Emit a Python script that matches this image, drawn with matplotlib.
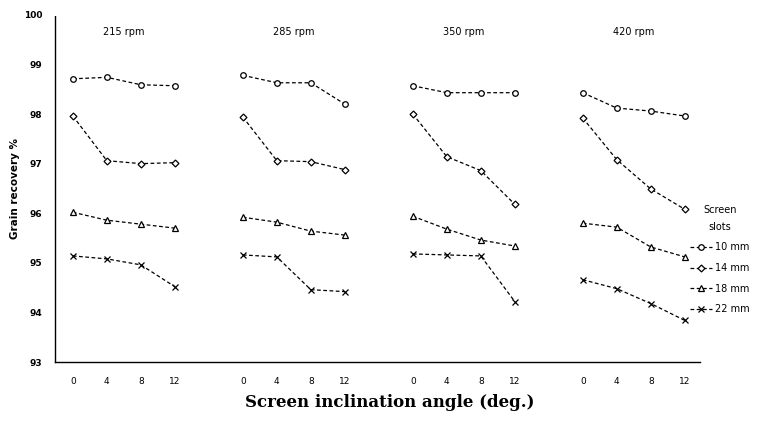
import numpy as np
from matplotlib import pyplot as plt

# data
angles = [0, 4, 8, 12]
speeds = ['215 rpm', '285 rpm', '350 rpm', '420 rpm']
slots = ['10 mm', '14 mm', '18 mm', '22 mm']

rec_10mm = [[98.71, 98.74, 98.59, 98.57],
            [98.78, 98.63, 98.63, 98.20],
            [98.57, 98.43, 98.43, 98.43],
            [98.43, 98.12, 98.06, 97.96]]
rec_14mm = [[97.96, 97.06, 97.00, 97.02],
            [97.94, 97.06, 97.04, 96.88],
            [98.00, 97.14, 96.86, 96.18],
            [97.92, 97.08, 96.49, 96.08]]
rec_18mm = [[96.02, 95.86, 95.78, 95.70],
            [95.92, 95.82, 95.64, 95.56],
            [95.94, 95.68, 95.46, 95.34],
            [95.80, 95.72, 95.32, 95.12]]
rec_22mm = [[95.14, 95.08, 94.96, 94.52],
            [95.16, 95.12, 94.46, 94.42],
            [95.18, 95.16, 95.14, 94.22],
            [94.66, 94.48, 94.18, 93.84]]

series = [rec_10mm, rec_14mm, rec_18mm, rec_22mm]
markers = ['o', 'D', '^', 'x']
msizes = [4, 3.5, 4, 5]
gap = 20  # spacing between speed groups on the x axis

fig = plt.figure(figsize=(7.8, 4.23), dpi=100)
ax = fig.add_axes([0.0705, 0.144, 0.827, 0.821])

for s, (data, mk, ms) in enumerate(zip(series, markers, msizes)):
    for i in range(len(speeds)):
        x = np.array(angles) + i * gap
        ax.plot(x, data[i], color='black', linestyle=(0, (3, 2)), linewidth=0.9,
                marker=mk, markersize=ms, markerfacecolor='white',
                markeredgecolor='black', markeredgewidth=0.9,
                label=slots[s] if i == 0 else None)

for i, sp in enumerate(speeds):
    ax.text(6 + i * gap, 99.66, sp, ha='center', va='center', fontsize=7)

ticks = [a + i * gap for i in range(len(speeds)) for a in angles]
ax.set_xticks(ticks)
ax.set_xticklabels([str(a) for i in range(len(speeds)) for a in angles], fontsize=6.5)
ax.set_xlim(-2.1, 73.8)
ax.set_ylim(93, 100)
ax.set_yticks(range(93, 101))
ax.set_yticklabels([str(v) for v in range(93, 101)], fontsize=6.5, fontweight='bold')
ax.tick_params(length=0)
ax.tick_params(axis='x', pad=11)
ax.tick_params(axis='y', pad=9)

for side in ['top', 'right']:
    ax.spines[side].set_visible(False)
for side in ['left', 'bottom']:
    ax.spines[side].set_linestyle((0, (1, 1)))
    ax.spines[side].set_linewidth(1.0)

ax.set_ylabel('Grain recovery %', fontsize=7.5, fontweight='bold')
ax.yaxis.set_label_coords(-0.054, 0.5)
fig.text(0.5, 0.048, 'Screen inclination angle (deg.)', ha='center', va='center',
         fontsize=12, fontweight='bold', family='DejaVu Serif')

leg = fig.legend(loc='upper left', bbox_to_anchor=(0.885, 0.515), frameon=False,
                 fontsize=7, title='Screen\nslots', title_fontsize=7,
                 handlelength=2.2, handletextpad=0.3, labelspacing=1.1,
                 borderaxespad=0, borderpad=0, alignment='center')
leg.get_title().set_multialignment('center')
leg.get_title().set_linespacing(1.8)

plt.savefig('out.png', dpi=100)
